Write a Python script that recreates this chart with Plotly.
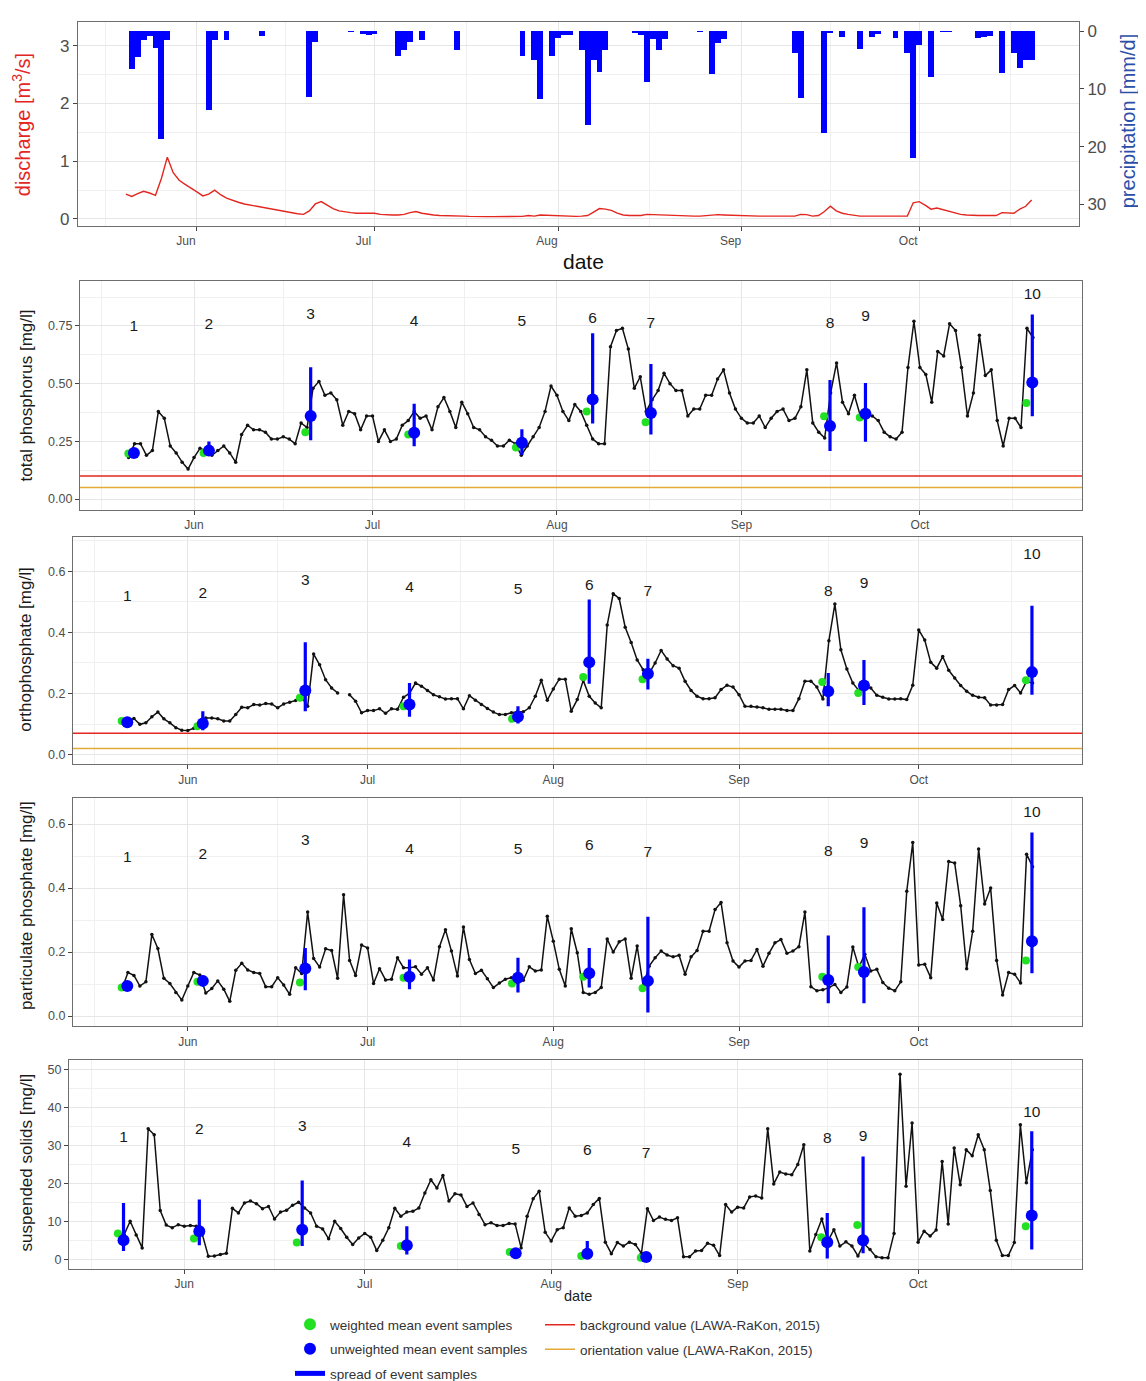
import pandas as pd
import plotly.graph_objects as go

# ---------------- data ----------------
# daily series, discharge / precipitation start 2015-05-20
discharge = [
    0.43, 0.39, 0.44, 0.48, 0.45, 0.41, 0.70, 1.07, 0.80, 0.67,
    0.60, 0.54, 0.47, 0.40, 0.43, 0.50, 0.42, 0.36, 0.32, 0.29,
    0.26, 0.24, 0.22, 0.21, 0.19, 0.16, 0.14, 0.12, 0.10, 0.09,
    0.08, 0.14, 0.26, 0.30, 0.24, 0.18, 0.14, 0.12, 0.11, 0.10,
    0.10, 0.11, 0.10, 0.08, 0.07, 0.07, 0.07, 0.08, 0.11, 0.13,
    0.10, 0.08, 0.07, 0.06, 0.06, 0.055, 0.05, 0.05, 0.045, 0.04,
    0.04, 0.04, 0.04, 0.04, 0.04, 0.04, 0.04, 0.045, 0.06, 0.05,
    0.07, 0.065, 0.065, 0.06, 0.05, 0.04, 0.045, 0.05, 0.06, 0.12,
    0.18, 0.17, 0.15, 0.10, 0.07, 0.06, 0.055, 0.06, 0.08, 0.075,
    0.07, 0.07, 0.065, 0.06, 0.05, 0.05, 0.05, 0.05, 0.06, 0.07,
    0.075, 0.07, 0.065, 0.06, 0.06, 0.055, 0.05, 0.05, 0.05, 0.05,
    0.05, 0.05, 0.05, 0.05, 0.08, 0.075, 0.05, 0.06, 0.13, 0.22,
    0.14, 0.10, 0.08, 0.06, 0.05, 0.05, 0.05, 0.05, 0.05, 0.05,
    0.05, 0.05, 0.05, 0.28, 0.30, 0.24, 0.17, 0.19, 0.16, 0.13,
    0.10, 0.08, 0.07, 0.06, 0.06, 0.06, 0.06, 0.06, 0.11, 0.11,
    0.10, 0.17, 0.22, 0.33]

precipitation = [
    0, 6.5, 4.5, 1.6, 0.8, 2.9, 18.6, 1.6, 0, 0,
    0, 0, 0, 0, 13.6, 1.6, 0, 1.6, 0, 0,
    0, 0, 0, 0.9, 0, 0, 0, 0, 0, 0,
    0, 11.3, 1.9, 0, 0, 0, 0, 0, 0.1, 0,
    0.5, 0.6, 0.5, 0, 0, 0, 4.3, 3.2, 1.8, 0,
    1.6, 0, 0, 0, 0, 0, 3.3, 0, 0, 0,
    0, 0, 0, 0, 0, 0, 0, 4.3, 0, 5.0,
    11.8, 0, 4.2, 1.2, 0.7, 0.6, 0, 3.2, 16.2, 4.9,
    7.0, 3.2, 0, 0, 0, 0, 0.3, 0.6, 8.7, 1.3,
    3.3, 1.3, 0, 0, 0, 0, 0, 0.1, 0, 7.4,
    2.1, 1.3, 0, 0, 0, 0, 0, 0, 0, 0,
    0, 0, 0, 3.8, 11.5, 0, 0, 0, 17.6, 0.2,
    0, 1.0, 0, 0, 3.0, 0, 1.0, 0.5, 0, 0,
    1.2, 0, 3.8, 21.9, 2.3, 0, 8.0, 0, 0.1, 0.1,
    0, 0, 0, 0, 1.2, 1.0, 0.9, 0, 7.3, 0,
    3.8, 6.4, 5.0, 5.0]

# daily concentrations, start 2015-05-21
total_phosphorus = [
    0.18, 0.24, 0.24, 0.19, 0.21, 0.38, 0.35, 0.23, 0.20, 0.16,
    0.13, 0.18, 0.22, 0.21, 0.19, 0.21, 0.23, 0.20, 0.16, 0.28,
    0.32, 0.30, 0.30, 0.29, 0.26, 0.26, 0.27, 0.26, 0.24, 0.33,
    0.31, 0.48, 0.51, 0.45, 0.46, 0.43, 0.32, 0.38, 0.37, 0.30,
    0.36, 0.36, 0.25, 0.30, 0.25, 0.26, 0.32, 0.34, 0.38, 0.35,
    0.36, 0.30, 0.40, 0.44, 0.38, 0.31, 0.42, 0.37, 0.31, 0.30,
    0.27, 0.255, 0.23, 0.23, 0.255, 0.24, 0.19, 0.23, 0.27, 0.31,
    0.38, 0.49, 0.45, 0.38, 0.34, 0.41, 0.38, 0.32, 0.26, 0.24,
    0.24, 0.66, 0.73, 0.74, 0.65, 0.48, 0.53, 0.38, 0.43, 0.47,
    0.545, 0.50, 0.47, 0.47, 0.36, 0.39, 0.39, 0.45, 0.45, 0.52,
    0.56, 0.46, 0.39, 0.35, 0.33, 0.33, 0.36, 0.31, 0.35, 0.38,
    0.39, 0.34, 0.35, 0.40, 0.56, 0.33, 0.29, 0.265, 0.46, 0.59,
    0.42, 0.37, 0.45, 0.36, 0.37, 0.36, 0.34, 0.29, 0.27, 0.26,
    0.29, 0.57, 0.77, 0.57, 0.54, 0.42, 0.64, 0.62, 0.76, 0.73,
    0.57, 0.36, 0.46, 0.71, 0.535, 0.56, 0.34, 0.23, 0.35, 0.35,
    0.31, 0.74, 0.70]

orthophosphate = [
    0.104, 0.11, 0.118, 0.099, 0.104, 0.124, 0.139, 0.117, 0.104, 0.088,
    0.080, 0.079, 0.086, 0.090, 0.12, 0.12, 0.117, 0.11, 0.11, 0.131,
    0.155, 0.153, 0.164, 0.162, 0.167, 0.166, 0.153, 0.166, 0.171, 0.177,
    0.188, 0.158, 0.329, 0.294, 0.245, 0.218, 0.202, None, 0.196, 0.175,
    0.137, 0.144, 0.144, 0.15, 0.135, 0.15, 0.148, 0.188, 0.20, 0.234,
    0.224, 0.21, 0.196, 0.189, 0.182, 0.183, 0.183, 0.15, 0.193, 0.178,
    0.164, 0.151, 0.139, 0.131, 0.131, 0.137, 0.14, 0.14, 0.153, 0.191,
    0.243, 0.178, 0.215, 0.247, 0.247, 0.142, 0.18, 0.243, 0.191, 0.169,
    0.153, 0.424, 0.527, 0.511, 0.417, 0.367, 0.31, 0.278, 0.265, 0.30,
    0.341, 0.313, 0.291, 0.283, 0.24, 0.21, 0.191, 0.183, 0.183, 0.186,
    0.213, 0.227, 0.221, 0.196, 0.158, 0.158, 0.156, 0.153, 0.148, 0.148,
    0.148, 0.144, 0.144, 0.183, 0.24, 0.24, 0.221, 0.182, 0.373, 0.493,
    0.343, 0.28, 0.234, 0.21, 0.226, 0.218, 0.194, 0.188, 0.182, 0.182,
    0.183, 0.18, 0.227, 0.408, 0.375, 0.302, 0.283, 0.321, 0.276, 0.251,
    0.226, 0.207, 0.194, 0.188, 0.186, 0.162, 0.162, 0.164, 0.213, 0.226,
    0.202, 0.24, 0.234]

particulate_phosphate = [
    0.084, 0.136, 0.127, 0.094, 0.107, 0.255, 0.211, 0.118, 0.102, 0.074,
    0.05, 0.094, 0.136, 0.128, 0.072, 0.086, 0.11, 0.084, 0.046, 0.143,
    0.165, 0.144, 0.136, 0.133, 0.092, 0.092, 0.12, 0.097, 0.068, 0.151,
    0.133, 0.325, 0.18, 0.153, 0.21, 0.205, 0.118, 0.379, 0.174, 0.127,
    0.222, 0.213, 0.102, 0.148, 0.113, 0.115, 0.182, 0.151, 0.151, 0.154,
    0.131, 0.151, 0.113, 0.217, 0.27, 0.203, 0.125, 0.278, 0.177, 0.133,
    0.143, 0.117, 0.089, 0.103, 0.115, 0.12, 0.105, 0.112, 0.154, 0.141,
    0.144, 0.312, 0.234, 0.146, 0.094, 0.273, 0.198, 0.074, 0.068, 0.074,
    0.089, 0.241, 0.2, 0.232, 0.241, 0.118, 0.219, 0.094, 0.156, 0.182,
    0.203, 0.191, 0.185, 0.19, 0.131, 0.185, 0.205, 0.265, 0.265, 0.333,
    0.355, 0.229, 0.172, 0.153, 0.172, 0.174, 0.208, 0.156, 0.196, 0.229,
    0.239, 0.196, 0.203, 0.217, 0.325, 0.092, 0.079, 0.082, 0.089, 0.099,
    0.074, 0.091, 0.216, 0.153, 0.193, 0.141, 0.146, 0.105, 0.087, 0.079,
    0.107, 0.39, 0.542, 0.16, 0.162, 0.12, 0.353, 0.302, 0.483, 0.478,
    0.345, 0.148, 0.265, 0.522, 0.35, 0.4, 0.174, 0.066, 0.136, 0.131,
    0.103, 0.506, 0.467]

suspended_solids = [
    6.9, 6.6, 10.1, 6.5, 3.1, 34.4, 32.8, 12.9, 9.1, 8.4,
    9.2, 8.8, 9.0, 8.8, 6.6, 0.9, 1.0, 1.4, 1.7, 13.5,
    12.3, 14.9, 15.4, 14.7, 13.4, 14.0, 10.7, 12.5, 13.0, 14.3,
    15.1, 13.6, 12.3, 8.8, 8.1, 5.5, 10.1, 8.2, 5.9, 4.0,
    5.7, 6.9, 5.9, 2.4, 5.1, 8.4, 13.5, 11.4, 12.5, 12.7,
    13.6, 17.5, 21.0, 18.8, 22.1, 15.4, 17.3, 17.0, 14.0, 14.9,
    11.9, 9.2, 9.7, 9.0, 9.0, 9.5, 9.4, 3.1, 11.4, 16.0,
    18.0, 7.2, 4.9, 7.9, 8.4, 13.6, 11.4, 11.6, 12.3, 14.5,
    16.1, 4.6, 1.6, 4.5, 3.6, 4.6, 4.0, 1.7, 13.4, 10.3,
    11.2, 10.6, 10.3, 11.0, 0.8, 0.8, 2.3, 2.4, 4.3, 3.8,
    1.1, 14.5, 12.5, 13.8, 13.6, 16.5, 16.7, 16.2, 34.4, 19.9,
    23.0, 22.5, 22.3, 25.0, 30.2, 2.3, 6.6, 10.7, 4.9, 7.9,
    3.6, 4.7, 3.6, 1.0, 4.2, 2.7, 0.8, 0.5, 0.5, 6.9,
    48.7, 19.3, 35.9, 4.6, 7.5, 6.2, 7.8, 25.8, 9.4, 29.3,
    19.7, 28.9, 27.3, 32.8, 28.9, 18.2, 5.1, 1.1, 1.1, 4.5,
    35.4, 20.2, 28.9]

# events
event_ids = ["1", "2", "3", "4", "5", "6", "7", "8", "9", "10"]
event_dates = ["2015-05-21 21:30", "2015-06-03 12:00", "2015-06-20 14:30", "2015-07-08 00:00",
               "2015-07-26 02:30", "2015-08-07 00:00", "2015-08-16 19:00", "2015-09-15 21:30",
               "2015-09-21 20:30", "2015-10-19 21:30"]
weighted_dates = ["2015-05-20 23:00", "2015-06-02 14:30", "2015-06-19 17:00", "2015-07-07 00:00",
                  "2015-07-25 02:30", "2015-08-06 00:00", "2015-08-15 21:30", "2015-09-14 21:30",
                  "2015-09-20 21:30", "2015-10-18 21:30"]

tp_unweighted = [0.20, 0.21, 0.36, 0.287, 0.244, 0.432, 0.373, 0.317, 0.37, 0.505]
tp_weighted = [0.198, 0.20, 0.29, 0.28, 0.224, 0.38, 0.333, 0.359, 0.353, 0.416]
tp_min = [0.185, 0.187, 0.255, 0.229, 0.191, 0.328, 0.28, 0.208, 0.248, 0.359]
tp_max = [0.215, 0.25, 0.571, 0.413, 0.303, 0.719, 0.585, 0.516, 0.503, 0.80]
tp_label_y = [0.743, 0.753, 0.796, 0.767, 0.767, 0.78, 0.76, 0.76, 0.789, 0.884]

op_unweighted = [0.106, 0.102, 0.21, 0.164, 0.124, 0.302, 0.265, 0.207, 0.226, 0.27]
op_weighted = [0.11, 0.093, 0.186, 0.158, 0.117, 0.254, 0.247, 0.238, 0.202, 0.243]
op_min = [0.093, 0.08, 0.142, 0.124, 0.102, 0.232, 0.213, 0.158, 0.162, 0.196]
op_max = [0.12, 0.142, 0.368, 0.234, 0.158, 0.508, 0.314, 0.267, 0.31, 0.487]
op_label_y = [0.514, 0.525, 0.568, 0.544, 0.538, 0.551, 0.531, 0.533, 0.558, 0.654]

pp_unweighted = [0.094, 0.11, 0.149, 0.123, 0.12, 0.134, 0.11, 0.113, 0.138, 0.234]
pp_weighted = [0.089, 0.107, 0.105, 0.12, 0.102, 0.123, 0.087, 0.123, 0.153, 0.174]
pp_min = [0.079, 0.094, 0.081, 0.084, 0.074, 0.089, 0.011, 0.04, 0.04, 0.134]
pp_max = [0.11, 0.127, 0.213, 0.177, 0.182, 0.213, 0.31, 0.252, 0.34, 0.574]
pp_label_y = [0.493, 0.504, 0.547, 0.519, 0.519, 0.53, 0.509, 0.511, 0.537, 0.633]

ss_unweighted = [5.1, 7.5, 7.9, 3.8, 1.7, 1.6, 0.7, 4.6, 5.1, 11.6]
ss_weighted = [6.9, 5.6, 4.5, 3.6, 2.0, 1.0, 0.5, 5.9, 9.1, 8.8]
ss_min = [2.3, 3.8, 3.6, 1.4, 1.3, 0.5, 0.4, 0.3, 1.7, 2.7]
ss_max = [14.9, 15.8, 20.8, 8.8, 2.1, 4.9, 1.0, 12.3, 27.1, 33.7]
ss_label_y = [31.9, 34.1, 34.8, 30.6, 28.7, 28.4, 27.6, 31.7, 32.1, 38.5]

tp_background, tp_orientation = 0.10, 0.05
op_background, op_orientation = 0.07, 0.02

month_ticks = ["2015-06-01", "2015-07-01", "2015-08-01", "2015-09-01", "2015-10-01"]
month_labels = ["Jun", "Jul", "Aug", "Sep", "Oct"]
mid_month = ["2015-05-16 12:00", "2015-06-16", "2015-07-16 12:00", "2015-08-16 12:00",
             "2015-09-16", "2015-10-16 12:00"]

# ---------------- figure ----------------
W, H = 1146, 1381
FONT = "Liberation Sans, Arial, sans-serif"
RED = "#E3261F"
ORANGE = "#E3AA3A"
GREEN = "#22E022"
BLUE = "#0000FF"
GRID = "#E6E6E6"
MINOR = "#F0F0F0"
TICKC = "#4D4D4D"

q_dates = pd.date_range("2015-05-20", periods=len(discharge), freq="D")
c_dates = pd.date_range("2015-05-21", periods=len(total_phosphorus), freq="D")

x_top = ["2015-05-11 22:00", "2015-10-28 00:00"]
x_low = ["2015-05-12 20:00", "2015-10-28 06:00"]

fig = go.Figure()

# top panel: precipitation bars (reversed secondary axis) + discharge
fig.add_trace(go.Bar(x=q_dates, y=precipitation, xaxis="x", yaxis="y6",
                     marker=dict(color=BLUE, line=dict(width=0)), width=86400000,
                     showlegend=False, hoverinfo="skip"))
fig.add_trace(go.Scatter(x=q_dates, y=discharge, xaxis="x", yaxis="y", mode="lines",
                         line=dict(color=RED, width=1.4), showlegend=False))


def spread_xy(dates, lo, hi):
    xs, ys = [], []
    for d, a, b in zip(dates, lo, hi):
        xs += [d, d, None]
        ys += [a, b, None]
    return xs, ys


def panel(n, values, unw, wgt, lo, hi, lab_y, bg=None, ori=None, first=False):
    xa, ya = "x%d" % n, "y%d" % n
    if bg is not None:
        fig.add_trace(go.Scatter(x=x_low, y=[bg, bg], xaxis=xa, yaxis=ya, mode="lines",
                                 line=dict(color=RED, width=1.5),
                                 name="background value (LAWA-RaKon, 2015)",
                                 legend="legend2", legendgroup="bg", legendrank=1,
                                 showlegend=first))
        fig.add_trace(go.Scatter(x=x_low, y=[ori, ori], xaxis=xa, yaxis=ya, mode="lines",
                                 line=dict(color=ORANGE, width=1.5),
                                 name="orientation value (LAWA-RaKon, 2015)",
                                 legend="legend2", legendgroup="or", legendrank=2,
                                 showlegend=first))
    fig.add_trace(go.Scatter(x=c_dates, y=values, xaxis=xa, yaxis=ya, mode="lines+markers",
                             line=dict(color="#111111", width=1.5),
                             marker=dict(color="#111111", size=3.5),
                             connectgaps=False, showlegend=False))
    fig.add_trace(go.Scatter(x=weighted_dates, y=wgt, xaxis=xa, yaxis=ya, mode="markers",
                             marker=dict(color=GREEN, size=8),
                             name="weighted mean event samples",
                             legendgroup="w", legendrank=1, showlegend=first))
    sx, sy = spread_xy(event_dates, lo, hi)
    fig.add_trace(go.Scatter(x=sx, y=sy, xaxis=xa, yaxis=ya, mode="lines",
                             line=dict(color=BLUE, width=3.2),
                             name="spread of event samples",
                             legendgroup="s", legendrank=3, showlegend=first))
    fig.add_trace(go.Scatter(x=event_dates, y=unw, xaxis=xa, yaxis=ya, mode="markers",
                             marker=dict(color=BLUE, size=12),
                             name="unweighted mean event samples",
                             legendgroup="u", legendrank=2, showlegend=first))
    fig.add_trace(go.Scatter(x=event_dates, y=lab_y, xaxis=xa, yaxis=ya, mode="text",
                             text=event_ids, textfont=dict(size=15.5, color="#1A1A1A", family=FONT),
                             showlegend=False, hoverinfo="skip"))


panel(2, total_phosphorus, tp_unweighted, tp_weighted, tp_min, tp_max, tp_label_y,
      tp_background, tp_orientation, first=True)
panel(3, orthophosphate, op_unweighted, op_weighted, op_min, op_max, op_label_y,
      op_background, op_orientation)
panel(4, particulate_phosphate, pp_unweighted, pp_weighted, pp_min, pp_max, pp_label_y)
panel(5, suspended_solids, ss_unweighted, ss_weighted, ss_min, ss_max, ss_label_y)


def px_dom(a, b, size):
    return [a / size, b / size]


def py_dom(top, bottom):
    return [1 - bottom / H, 1 - top / H]


def xaxis(dom, anchor, rng, fs=12, shift=0):
    return dict(domain=dom, anchor=anchor, type="date", range=rng,
                tickvals=month_ticks, ticktext=month_labels,
                tickfont=dict(size=fs, color=TICKC, family=FONT),
                ticks="outside", ticklen=4, tickcolor="#444", tickwidth=1,
                ticklabelshift=shift,
                showgrid=True, gridcolor=GRID, gridwidth=1.2,
                minor=dict(tickvals=mid_month, showgrid=True, gridcolor=MINOR, gridwidth=0.8, ticks=""),
                showline=True, mirror=True, linecolor="#6E6E6E", linewidth=1.2,
                zeroline=False)


def yaxis(dom, anchor, rng, tv, tt, minor, fs=12.5):
    return dict(domain=dom, anchor=anchor, range=rng, tickvals=tv, ticktext=tt,
                tickfont=dict(size=fs, color=TICKC, family=FONT),
                ticks="outside", ticklen=4, tickcolor="#444", tickwidth=1,
                showgrid=True, gridcolor=GRID, gridwidth=1.2,
                minor=dict(tickvals=minor, showgrid=True, gridcolor=MINOR, gridwidth=0.8, ticks=""),
                showline=True, mirror=True, linecolor="#6E6E6E", linewidth=1.2,
                zeroline=False)


layout = dict(
    width=W, height=H, autosize=False,
    margin=dict(l=0, r=0, t=0, b=0),
    paper_bgcolor="white", plot_bgcolor="white",
    font=dict(family=FONT, color="#1A1A1A"),
    showlegend=True,
    xaxis=xaxis(px_dom(70, 1071, W), "y", x_top, shift=-11),
    yaxis=yaxis(py_dom(14, 219), "x", [-0.114, 3.41], [0, 1, 2, 3], ["0", "1", "2", "3"],
                [0.5, 1.5, 2.5], fs=17),
    yaxis6=dict(overlaying="y", anchor="x", side="right", range=[33.64, -1.6],
                tickvals=[0, 10, 20, 30], ticktext=["0", "10", "20", "30"],
                tickfont=dict(size=17, color=TICKC, family=FONT),
                ticks="outside", ticklen=4, tickcolor="#444", showgrid=False, zeroline=False,
                showline=False),
    xaxis2=xaxis(px_dom(72, 1074, W), "y2", x_low),
    yaxis2=yaxis(py_dom(275, 505), "x2", [-0.046, 0.944], [0, 0.25, 0.5, 0.75],
                 ["0.00", "0.25", "0.50", "0.75"], [0.125, 0.375, 0.625, 0.875]),
    xaxis3=xaxis(px_dom(65, 1074, W), "y3", x_low),
    yaxis3=yaxis(py_dom(532, 761), "x3", [-0.031, 0.714], [0, 0.2, 0.4, 0.6],
                 ["0.0", "0.2", "0.4", "0.6"], [0.1, 0.3, 0.5, 0.7]),
    xaxis4=xaxis(px_dom(65, 1074, W), "y4", x_low),
    yaxis4=yaxis(py_dom(795, 1025), "x4", [-0.032, 0.682], [0, 0.2, 0.4, 0.6],
                 ["0.0", "0.2", "0.4", "0.6"], [0.1, 0.3, 0.5]),
    xaxis5=xaxis(px_dom(61, 1074, W), "y5", x_low),
    yaxis5=yaxis(py_dom(1059, 1269), "x5", [-2.36, 52.4], [0, 10, 20, 30, 40, 50],
                 ["0", "10", "20", "30", "40", "50"], [5, 15, 25, 35, 45]),
    legend=dict(x=282 / W, y=1 - 1310 / H, xanchor="left", yanchor="top",
                bgcolor="rgba(0,0,0,0)", font=dict(size=13.5, color="#333", family=FONT),
                tracegroupgap=4, itemsizing="constant", itemwidth=30),
    legend2=dict(x=532 / W, y=1 - 1310 / H, xanchor="left", yanchor="top",
                 bgcolor="rgba(0,0,0,0)", font=dict(size=13.5, color="#333", family=FONT),
                 tracegroupgap=4, itemwidth=30),
    bargap=0,
)
fig.update_layout(**layout)


def ann(text, x, y, size, color="#1A1A1A", angle=0):
    fig.add_annotation(text=text, x=x / W, y=1 - y / H, xref="paper", yref="paper",
                       showarrow=False, textangle=angle, xanchor="center", yanchor="middle",
                       font=dict(size=size, color=color, family=FONT))


ann("discharge [m<sup>3</sup>/s]", 13, 118, 20, RED, -90)
ann("precipitation [mm/d]", 1120, 114, 20, "#2B4FA8", -90)
ann("date", 575, 255, 21, "#111")
ann("total phosphorus [mg/l]", 18, 390, 17, "#1A1A1A", -90)
ann("orthophosphate [mg/l]", 18, 646, 17, "#1A1A1A", -90)
ann("particulate phosphate [mg/l]", 18, 904, 17, "#1A1A1A", -90)
ann("suspended solids [mg/l]", 18, 1162, 17, "#1A1A1A", -90)
ann("date", 570, 1296, 14.5, "#222")

fig.write_html("out.html")
